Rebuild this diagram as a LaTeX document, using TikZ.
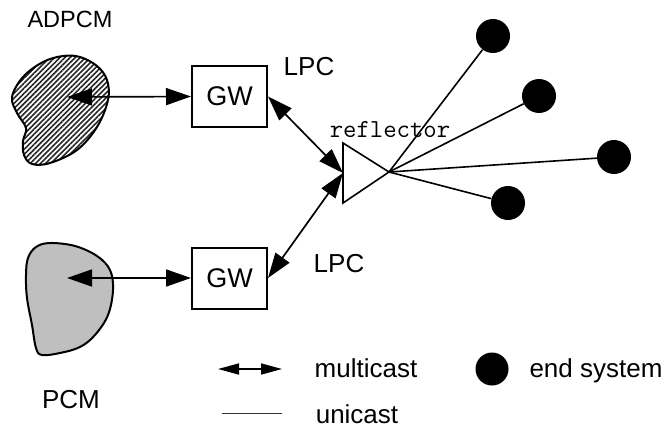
\documentclass[tikz,border=0pt]{standalone}
\usepackage{fontspec}
\setmainfont{Liberation Sans}
\usetikzlibrary{arrows.meta,patterns.meta}
\begin{document}
\begin{tikzpicture}[x=1pt,y=-1pt,
  txt/.style={anchor=base,inner sep=0pt,font=\fontsize{26}{30}\selectfont},
  gwbox/.style={draw,line width=2pt,minimum width=75pt,minimum height=61pt,inner sep=0pt,font=\fontsize{27}{30}\selectfont},
  blob/.style={line width=2pt},
  dbl/.style={line width=1.7pt,{Triangle[length=25pt,width=17pt]}-{Triangle[length=25pt,width=17pt]}},
  ldbl/.style={line width=1.7pt,{Triangle[length=21pt,width=11pt]}-{Triangle[length=21pt,width=11pt]}},
  fan/.style={line width=1.6pt},
  endsys/.style={circle,fill=black,minimum size=33pt,inner sep=0pt}]
\useasboundingbox (0,0) rectangle (671,428);

% blobs
\draw[blob,pattern={Lines[angle=45,distance=3.6pt,line width=1.6pt]},pattern color=black!85]
  plot[smooth cycle,tension=0.6] coordinates {(12,97) (23,77) (43,62) (63,56) (80,57) (97,66) (107,80) (108,100) (97,127) (77,150) (50,163) (32,164) (24,155) (23,141) (26,128) (17,113)};
\draw[blob,fill=black!25]
  plot[smooth cycle,tension=0.6] coordinates {(50,243) (75,246) (97,256) (110,270) (113,290) (108,315) (95,335) (80,347) (60,353) (42,355) (36,348) (32,325) (27,298) (26,275) (28,258) (36,247)};
\coordinate (adpcmc) at (67,97);
\coordinate (pcmc) at (67,278);

\node[txt,font=\fontsize{23.5}{28}\selectfont] (adpcm) at (70,28) {ADPCM};
\node[txt] (pcm) at (71,408) {PCM};

% gateways
\node[gwbox] (gw1) at (229.5,96.5) {GW};
\node[gwbox] (gw2) at (229.5,278) {GW};
\node[txt] (lpc1) at (309,75) {LPC};
\node[txt] (lpc2) at (339,272) {LPC};

% reflector
\draw[line width=1.6pt] (343,143) -- (343,203) -- (389,172) -- cycle;
\coordinate (refl) at (343,173);
\coordinate (hub) at (389,172);
\node[anchor=base,inner sep=0pt,font=\ttfamily\fontsize{26}{28}\selectfont] (refltxt) at (390,137) {reflector};

% arrows
\draw[dbl] (adpcmc) -- (gw1.west);
\draw[dbl] (pcmc) -- (gw2.west);
\draw[dbl] (gw1.east) -- (refl);
\draw[dbl] (gw2.east) -- (refl);

% end systems
\node[endsys,minimum width=34pt,minimum height=32pt] (es1) at (493,36) {};
\node[endsys,minimum width=34pt,minimum height=32pt] (es2) at (539,96) {};
\node[endsys,minimum width=34pt,minimum height=32pt] (es3) at (614,157) {};
\node[endsys,minimum width=34pt,minimum height=32pt] (es4) at (508,203) {};
\draw[fan] (hub) -- (es1);
\draw[fan] (hub) -- (es2);
\draw[fan] (hub) -- (es3);
\draw[fan] (hub) -- (es4);

% legend
\coordinate (la) at (218,369);
\coordinate (lb) at (282,369);
\draw[ldbl] (la) -- (lb);
\node[txt] (mc) at (366,377) {multicast};
\node[endsys] (les) at (492,369) {};
\node[txt] (esl) at (596,377) {end system};
\coordinate (ua) at (222,413);
\coordinate (ub) at (282,413);
\draw[line width=0.9pt,black!80] (ua) -- (ub);
\node[txt] (uc) at (357,423) {unicast};
\end{tikzpicture}
\end{document}
